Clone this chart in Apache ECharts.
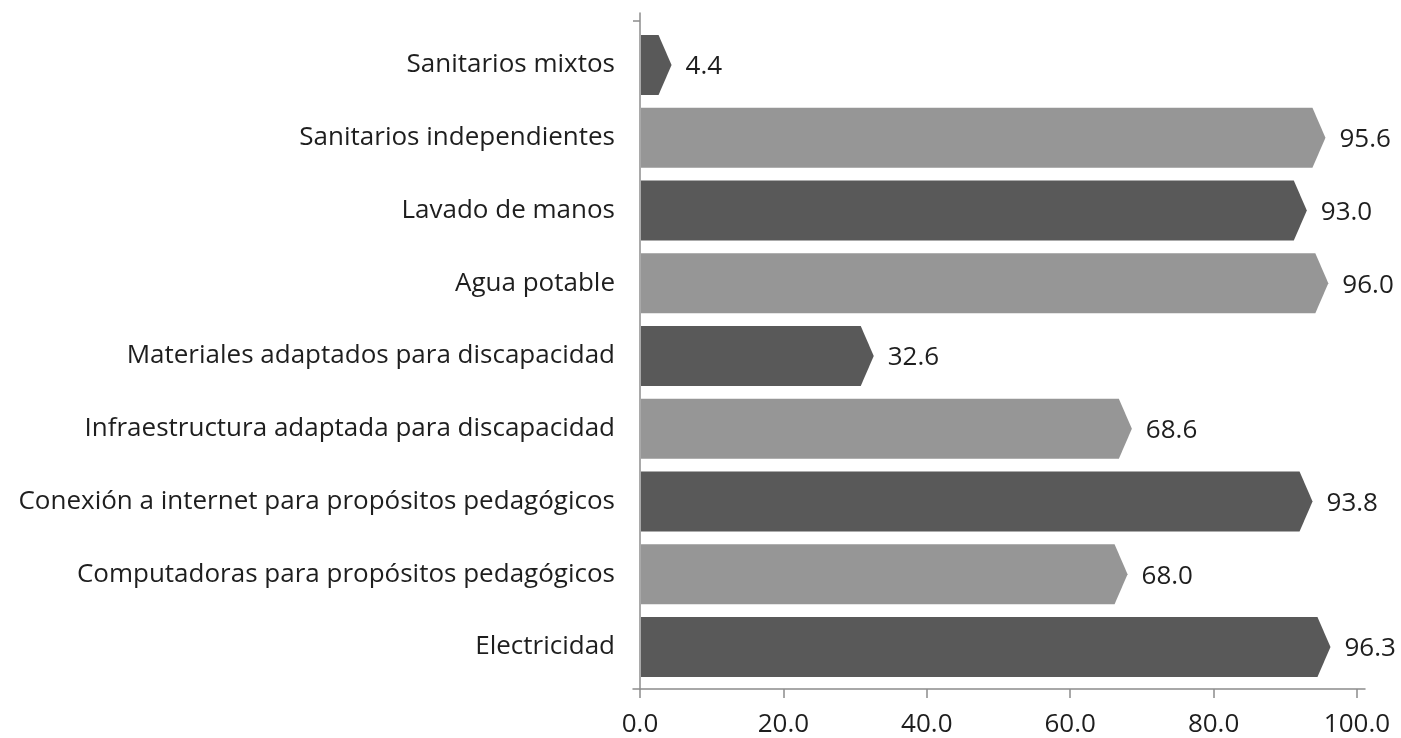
<!DOCTYPE html>
<html><head><meta charset="utf-8">
<script src="https://cdn.jsdelivr.net/npm/echarts@6/dist/echarts.min.js"></script>
<style>html,body{margin:0;padding:0;background:#fff;}#c{width:1401px;height:738px;}</style>
</head><body><div id="c"></div>
<script>
const categories = [
  'Sanitarios mixtos',
  'Sanitarios independientes',
  'Lavado de manos',
  'Agua potable',
  'Materiales adaptados para discapacidad',
  'Infraestructura adaptada para discapacidad',
  'Conexión a internet para propósitos pedagógicos',
  'Computadoras para propósitos pedagógicos',
  'Electricidad'
];
const values = [4.4, 95.6, 93.0, 96.0, 32.6, 68.6, 93.8, 68.0, 96.3];
const xTicks = [0, 20, 40, 60, 80, 100];

const DARK = '#595959', LIGHT = '#969696';
const FONT = 'Open Sans';
const FS = 26;
const data = values.map((v, i) => [v, i]);

const chart = echarts.init(document.getElementById('c'), null, {renderer: 'canvas'});
chart.setOption({
  animation: false,
  backgroundColor: '#fff',
  grid: [
    {left: 640, right: 44, top: 28.6, bottom: 54.6, containLabel: false},
    {left: 633, width: 732, top: 13, height: 676, containLabel: false}
  ],
  xAxis: [
    {
      type: 'value', gridIndex: 0, min: xTicks[0], max: xTicks[xTicks.length - 1], interval: 20, offset: 5.6,
      axisLine: {show: false},
      axisTick: {show: true, length: 9, lineStyle: {color: '#8c8c8c', width: 1.5}},
      splitLine: {show: false},
      axisLabel: {show: true, margin: 23, fontFamily: FONT, fontSize: FS, color: '#1e1e1e',
        formatter: v => v.toFixed(1)}
    },
    {
      type: 'value', gridIndex: 1, min: 0, max: 1,
      axisLine: {show: true, onZero: false, lineStyle: {color: '#8c8c8c', width: 1.5}},
      axisTick: {show: false}, axisLabel: {show: false}, splitLine: {show: false}
    }
  ],
  yAxis: [
    {
      type: 'category', gridIndex: 0, data: categories, inverse: true,
      axisLine: {show: false}, axisTick: {show: false}, splitLine: {show: false},
      axisLabel: {show: true, margin: 25, fontFamily: FONT, fontSize: FS, color: '#1e1e1e'}
    },
    {
      type: 'value', gridIndex: 1, min: 0, max: 676, inverse: true, offset: -7,
      axisLine: {show: true, onZero: false, lineStyle: {color: '#8c8c8c', width: 1.5}},
      axisTick: {show: true, length: 7, customValues: [8], lineStyle: {color: '#8c8c8c', width: 1.5}},
      axisLabel: {show: false}, splitLine: {show: false}
    }
  ],
  series: [{
    type: 'custom',
    xAxisIndex: 0, yAxisIndex: 0,
    data: data,
    encode: {x: 0, y: 1},
    renderItem: function (params, api) {
      const v = api.value(0), idx = api.value(1);
      const start = api.coord([0, idx]);
      const end = api.coord([v, idx]);
      const h = api.size([0, 1])[1] * 0.825;
      const depth = 13;
      const y0 = start[1] - h / 2, y1 = start[1] + h / 2;
      const x0 = start[0] + 1, xt = end[0];
      const xb = Math.max(x0, xt - depth);
      return {
        type: 'group',
        children: [
          {type: 'polygon', shape: {points: [[x0, y0], [xb, y0], [xt, start[1]], [xb, y1], [x0, y1]]},
           style: {fill: idx % 2 === 0 ? DARK : LIGHT}},
          {type: 'text', x: xt + 14, y: start[1] + 2,
           style: {text: v.toFixed(1), fontFamily: FONT, fontSize: FS, fill: '#1e1e1e',
                   textAlign: 'left', textVerticalAlign: 'middle'}}
        ]
      };
    }
  }]
});
</script></body></html>
